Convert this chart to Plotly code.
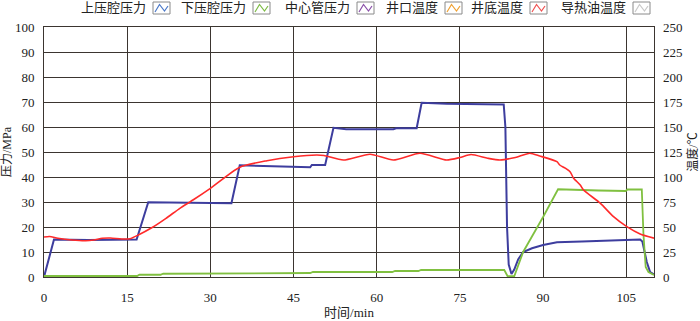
import plotly.graph_objects as go

# ---------------- data ----------------
# 上压腔压力 (MPa)
t_upper = [0, 1.8, 8, 16.7, 18.8, 26, 33.8, 35.3, 40, 48, 48.3, 50.7, 52.2, 54.5, 63, 63.5, 67.2,
           68.1, 72.6, 82.6, 82.9, 83.2, 83.5, 83.8, 84.3, 84.8, 85.5, 86.4, 88, 90, 92.5, 97, 100,
           104, 107.5, 107.9, 108.3, 108.7, 109.3, 110]
p_upper = [0, 15, 14.8, 15, 29.9, 29.7, 29.5, 44.7, 44.3, 43.9, 44.8, 44.8, 59.7, 59.1, 59.1, 59.5, 59.5,
           69.7, 69.3, 69.3, 69.0, 60, 20, 5, 1.2, 3, 7, 10, 11.5, 12.8, 13.9, 14.2, 14.5,
           14.7, 15, 14.2, 10, 6, 2, 1]

# 下压腔压力 (MPa)
t_lower = [0, 16.8, 17.2, 21, 21.5, 34.5, 35, 48, 48.5, 62.8, 63.3, 67.5, 68, 83, 83.6, 84.8,
           86.4, 88, 90, 92.7, 95, 100, 104.9, 105.2, 107.8, 108.1, 108.5, 109, 110]
p_lower = [0.4, 0.4, 0.9, 0.9, 1.3, 1.3, 1.6, 1.6, 2.0, 2.0, 2.4, 2.4, 2.8, 2.8, 0.3, 0.3,
           10, 16, 24, 35.1, 34.9, 34.6, 34.4, 35, 35, 17, 4, 2, 0.8]

# 井底温度 (℃)
t_temp = [0, 1, 2.5, 5, 7.5, 9, 10.5, 12, 14, 15.5, 17, 19.5, 22, 24.5, 27, 30, 35.3, 40.2, 45,
          49.2, 50.5, 54, 58.8, 63, 67.8, 72.6, 75, 77, 80, 82.2, 85, 87.6, 89.4, 92.5, 93, 94,
          94.9, 95.5, 96.7, 97.3, 100.3, 102.7, 105.1, 107.5, 110]
temp_bottom = [40, 40.5, 38.8, 37, 36.2, 37, 38.7, 39, 38, 38.3, 42, 49.5, 58.7, 68.7, 77.5, 88.7,
               109.8, 116.3, 120.3, 122, 121.5, 117, 122.8, 117, 123.8, 117, 119.5, 122.5, 118.8,
               117, 119.5, 123.8, 121, 115.3, 112, 108.8, 105, 98.8, 92, 87, 73.8, 60.3, 50.3,
               43, 38.8]

x_ticks = [0, 15, 30, 45, 60, 75, 90, 105]

legend_names = ["上压腔压力", "下压腔压力", "中心管压力", "井口温度", "井底温度", "导热油温度"]
legend_colors = ["#4a78c8", "#7cbb44", "#8a4fa8", "#f0a030", "#f05050", "#c8c8c8"]

# ---------------- layout helpers ----------------
W, H = 700, 321
ML, MR, MT, MB = 44, 46, 27, 44
PW, PH = W - ML - MR, H - MT - MB


def px_x(px):
    return (px - ML) / PW


def px_y(py):
    return (H - MB - py) / PH


FONT = "Liberation Serif, 'Noto Sans CJK SC', serif"
GRID = "#3b3530"

fig = go.Figure()
fig.add_trace(go.Scatter(x=t_upper, y=p_upper, mode="lines", name="上压腔压力",
                         line=dict(color="#3d3d9e", width=2), showlegend=False))
fig.add_trace(go.Scatter(x=t_lower, y=p_lower, mode="lines", name="下压腔压力",
                         line=dict(color="#80c040", width=1.8), showlegend=False))
fig.add_trace(go.Scatter(x=t_temp, y=temp_bottom, mode="lines", name="井底温度", yaxis="y2",
                         line=dict(color="#ff2a2a", width=1.6, shape="spline", smoothing=0.6),
                         showlegend=False))

# custom legend: text followed by a boxed zigzag icon
icon_left = [153, 253, 357, 445, 530, 633]
annotations = []
shapes = []
for name, col, il in zip(legend_names, legend_colors, icon_left):
    annotations.append(dict(text=name, x=px_x(il - 5), y=px_y(8), xref="paper", yref="paper",
                            xanchor="right", yanchor="middle", showarrow=False,
                            font=dict(family=FONT, size=13, color="#222")))
    x0, x1 = px_x(il), px_x(il + 17)
    y0, y1 = px_y(14), px_y(2)
    shapes.append(dict(type="rect", xref="paper", yref="paper", x0=x0, x1=x1, y0=y0, y1=y1,
                       line=dict(color="#8a8a8a", width=1), fillcolor="white"))
    pts = [(il + 2, 12), (il + 6.5, 4.5), (il + 11.5, 11), (il + 15, 6)]
    path = "M " + " L ".join(f"{px_x(a):.5f},{px_y(b):.5f}" for a, b in pts)
    shapes.append(dict(type="path", xref="paper", yref="paper", path=path,
                       line=dict(color=col, width=1.2)))

fig.update_layout(
    width=W, height=H,
    margin=dict(l=ML, r=MR, t=MT, b=MB, autoexpand=False),
    paper_bgcolor="white", plot_bgcolor="white",
    font=dict(family=FONT, size=13, color="#222"),
    showlegend=False,
    annotations=annotations,
    shapes=shapes,
    xaxis=dict(range=[0, 110], tickvals=x_ticks, showgrid=True, gridcolor=GRID, gridwidth=1,
               showline=True, linecolor=GRID, linewidth=1, mirror=True, zeroline=False,
               ticks="", ticklabelstandoff=8,
               title=dict(text="时间/min", font=dict(size=13), standoff=4)),
    yaxis=dict(range=[0, 100], dtick=10, showgrid=True, gridcolor=GRID, gridwidth=1,
               showline=True, linecolor=GRID, linewidth=1, mirror=True, zeroline=False,
               ticks="", ticklabelstandoff=6,
               title=dict(text="压力/MPa", font=dict(size=12), standoff=4)),
    yaxis2=dict(range=[0, 250], dtick=25, overlaying="y", side="right", showgrid=False,
                zeroline=False, showline=False, ticks="", ticklabelstandoff=8,
                title=dict(text="温度/℃", font=dict(size=12), standoff=9)),
)

fig.write_html("out.html", config={"displayModeBar": False},
               post_script="document.body.style.margin='0';document.body.style.padding='0';")
